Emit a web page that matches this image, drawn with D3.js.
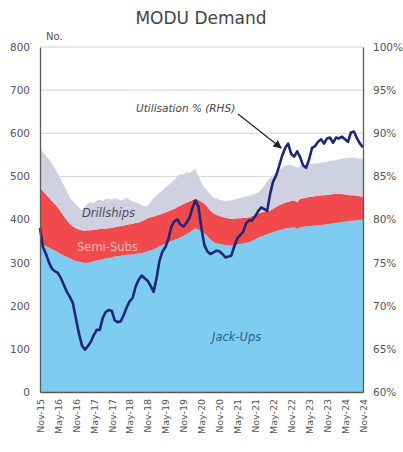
<!DOCTYPE html>
<html lang="en">
<head>
<meta charset="UTF-8">
<title>MODU Demand</title>
<style>
  body { margin: 0; background: #fff; }
  svg text { font-family: "DejaVu Sans", sans-serif; }
  .grid line { stroke: #d4d4d4; stroke-width: 1px; }
  .tick-label { fill: #555; font-size: 10.5px; }
</style>
<script src="https://cdnjs.cloudflare.com/ajax/libs/d3/7.8.5/d3.min.js"></script>
</head>
<body>
<svg id="chart" width="403" height="452"></svg>
<script>
// monthly, Nov-15 .. Nov-24
const startMonth = new Date(2015, 10, 1);
const endMonth = new Date(2024, 10, 1);

const jackUps = [347,342,338,335,331,328,324,320,316,313,310,306,304,302,301,299,300,301,303,305,
  306,308,310,311,312,314,315,316,317,318,318,319,320,321,322,324,326,328,331,334,
  338,341,344,347,350,353,355,358,362,366,370,375,379,376,372,368,361,354,347,345,
  343,342,341,340,340,341,342,343,345,346,347,351,354,358,361,363,366,368,371,373,
  375,377,379,380,381,382,378,382,383,384,385,385,386,386,387,388,389,390,391,392,
  393,394,395,396,397,397,398,399,400];

const semiSubs = [127,124,120,116,112,108,104,98,92,85,80,78,76,75,74,75,75,74,73,72,
  72,70,69,69,69,68,69,69,69,69,71,71,72,72,74,75,77,77,76,75,
  73,73,72,72,72,72,74,74,74,73,72,70,69,69,69,69,68,67,67,66,
  65,64,63,63,62,61,61,60,59,58,58,57,57,56,55,55,54,53,54,56,
  58,59,60,61,62,62,62,66,66,66,67,68,68,69,69,68,68,68,68,67,
  67,65,63,61,59,59,57,55,53];

const drillships = [91,90,90,89,87,82,78,75,71,67,61,58,55,51,46,56,62,65,62,67,
  68,65,69,68,64,68,63,59,60,63,57,52,48,44,37,31,30,35,42,47,
  51,54,58,61,64,68,71,74,68,71,66,69,70,55,45,37,37,37,37,38,
  38,38,39,41,42,44,45,47,48,50,50,50,49,48,54,61,68,76,78,80,
  82,84,86,86,83,80,80,77,77,77,76,76,76,76,76,77,77,78,78,79,
  80,82,84,86,87,88,87,87,87];

// utilisation %, right axis
const utilisation = [79.0,76.8,76.0,75.0,74.3,74.0,73.8,73.2,72.4,71.6,71.0,70.3,68.5,66.8,65.4,64.9,65.3,65.8,66.6,67.2,
  67.2,68.6,69.3,69.5,69.4,68.3,68.1,68.2,68.9,69.8,70.5,70.9,72.2,73.0,73.5,73.2,72.9,72.3,71.6,73.3,
  75.2,76.3,76.8,77.8,79.2,79.8,80.0,79.4,79.2,79.6,80.2,81.4,82.2,81.5,79.0,77.0,76.3,76.0,76.2,76.4,
  76.3,76.0,75.6,75.7,75.8,76.9,77.8,78.2,78.6,79.6,79.9,79.9,80.4,81.0,81.4,81.2,81.0,83.0,84.4,85.1,
  86.2,87.4,88.3,88.8,87.6,87.3,87.9,87.2,86.3,86.0,86.9,88.3,88.5,89.0,89.3,88.8,89.4,89.5,88.9,89.5,
  89.4,89.6,89.3,89.0,90.1,90.2,89.4,88.8,88.4];

const xTickLabels = ["Nov-15","May-16","Nov-16","May-17","Nov-17","May-18","Nov-18","May-19","Nov-19","May-20",
  "Nov-20","May-21","Nov-21","May-22","Nov-22","May-23","Nov-23","May-24","Nov-24"];
const leftTicks = [0,100,200,300,400,500,600,700,800];
const rightTicks = [60,65,70,75,80,85,90,95,100];

const colors = { jackUps: "#7ecdf0", semiSubs: "#f04a4c", drillships: "#cfd1e1" };

const months = d3.timeMonth.range(startMonth, d3.timeMonth.offset(endMonth, 1));
const rows = months.map((d, i) => ({
  date: d, jackUps: jackUps[i], semiSubs: semiSubs[i], drillships: drillships[i], util: utilisation[i]
}));

const margin = { left: 40, right: 40, top: 47, bottom: 60 };
const W = 403, H = 452;
const svg = d3.select("#chart");

const x = d3.scaleTime().domain([startMonth, endMonth]).range([margin.left, W - margin.right]);
const y = d3.scaleLinear().domain([0, 800]).range([H - margin.bottom, margin.top]);
const y2 = d3.scaleLinear().domain([60, 100]).range([H - margin.bottom, margin.top]);

// title
svg.append("text").attr("x", 201).attr("y", 24).attr("text-anchor", "middle")
  .attr("font-size", 17).attr("fill", "#444").text("MODU Demand");
svg.append("text").attr("x", 46).attr("y", 40).attr("font-size", 10).attr("fill", "#555").text("No.");

// gridlines
svg.append("g").attr("class", "grid")
  .selectAll("line").data(leftTicks.slice(1)).join("line")
  .attr("x1", margin.left).attr("x2", W - margin.right)
  .attr("y1", d => y(d)).attr("y2", d => y(d));

// stacked areas
const keys = ["jackUps", "semiSubs", "drillships"];
const series = d3.stack().keys(keys)(rows);
const area = d3.area()
  .x(d => x(d.data.date))
  .y0(d => y(d[0]))
  .y1(d => y(d[1]));
svg.append("g").selectAll("path").data(series).join("path")
  .attr("fill", d => colors[d.key])
  .attr("d", area);

// utilisation line
const line = d3.line().x(d => x(d.date)).y(d => y2(d.util));
svg.append("path").datum(rows)
  .attr("fill", "none").attr("stroke", "#1d2775").attr("stroke-width", 2.6)
  .attr("stroke-linejoin", "round")
  .attr("d", line);

// axes
const leftAxis = svg.append("g").attr("transform", `translate(${margin.left},0)`)
  .call(d3.axisLeft(y).tickValues(leftTicks).tickSize(0).tickPadding(10));
const rightAxis = svg.append("g").attr("transform", `translate(${W - margin.right},0)`)
  .call(d3.axisRight(y2).tickValues(rightTicks).tickSize(0).tickPadding(10).tickFormat(d => d + "%"));
const parseLbl = d3.timeParse("%b-%y");
const bottomAxis = svg.append("g").attr("transform", `translate(0,${H - margin.bottom})`)
  .call(d3.axisBottom(x).tickValues(xTickLabels.map(parseLbl)).tickSize(0).tickFormat(d3.timeFormat("%b-%y")));
bottomAxis.selectAll("text")
  .attr("transform", "rotate(-90)")
  .attr("text-anchor", "end")
  .attr("x", -7).attr("y", 0).attr("dy", "0.35em");

[leftAxis, rightAxis, bottomAxis].forEach(g => {
  g.select(".domain").attr("stroke", "#5a5a5a").attr("stroke-width", 1.3);
  g.selectAll("text").attr("class", "tick-label").attr("font-family", "DejaVu Sans");
});
bottomAxis.selectAll("text").style("font-size", "9.5px");

// series labels
svg.append("text").attr("x", 82).attr("y", 217).attr("font-size", 11.5).attr("font-style", "italic")
  .attr("fill", "#4a4a55").text("Drillships");
svg.append("text").attr("x", 77).attr("y", 251).attr("font-size", 11.5)
  .attr("fill", "#f8b8b8").text("Semi-Subs");
svg.append("text").attr("x", 212).attr("y", 341).attr("font-size", 11.5).attr("font-style", "italic")
  .attr("fill", "#2b5f80").text("Jack-Ups");

// annotation
svg.append("defs").append("marker").attr("id", "arrow")
  .attr("viewBox", "0 0 10 10").attr("refX", 9).attr("refY", 5)
  .attr("markerWidth", 7).attr("markerHeight", 7).attr("orient", "auto")
  .append("path").attr("d", "M0,0L10,5L0,10z").attr("fill", "#222");
svg.append("text").attr("x", 136).attr("y", 112).attr("font-size", 10.5).attr("font-style", "italic")
  .attr("fill", "#444").text("Utilisation % (RHS)");
const arrowTo = rows[82];
svg.append("line")
  .attr("x1", 238).attr("y1", 114)
  .attr("x2", x(arrowTo.date) - 4).attr("y2", y2(arrowTo.util))
  .attr("stroke", "#222").attr("stroke-width", 1.2)
  .attr("marker-end", "url(#arrow)");
</script>
</body>
</html>
